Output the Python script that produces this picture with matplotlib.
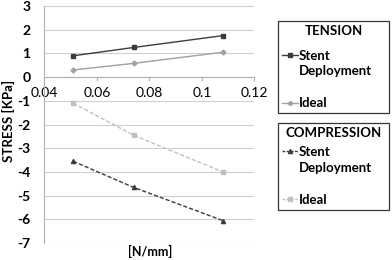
import matplotlib
matplotlib.use('Agg')
import matplotlib.pyplot as plt
from matplotlib.lines import Line2D

# Values
force = [0.051, 0.074, 0.108]
tension_stent = [0.9, 1.25, 1.75]
tension_ideal = [0.3, 0.58, 1.05]
compression_stent = [-3.55, -4.65, -6.05]
compression_ideal = [-1.1, -2.45, -4.0]

x_ticks = [0.04, 0.06, 0.08, 0.1, 0.12]
x_tick_labels = ['0.04', '0.06', '0.08', '0.1', '0.12']
y_ticks = [3, 2, 1, 0, -1, -2, -3, -4, -5, -6, -7]

plt.rcParams['font.family'] = ['Lato', 'DejaVu Sans']

dark = '#3c3c3c'
light = '#a0a0a0'
lighter = '#c0c0c0'
grid = '#d0d0d0'

fig = plt.figure(figsize=(3.92, 2.6), dpi=100)
ax = fig.add_axes([0.113, 0.065, 0.536, 0.912])

ax.plot(force, tension_stent, color=dark, lw=1.0, marker='s', ms=3.5)
ax.plot(force, tension_ideal, color=light, lw=1.0, marker='D', ms=2.5)
ax.plot(force, compression_stent, color=dark, lw=1.0, ls='--', dashes=(3, 1.5), marker='^', ms=3)
ax.plot(force, compression_ideal, color=lighter, lw=1.0, ls='--', dashes=(3, 1.5), marker='s', ms=3.5)

ax.set_xlim(0.04, 0.12)
ax.set_ylim(-7, 3)
ax.set_yticks(y_ticks)
ax.set_yticklabels([str(v) for v in y_ticks], fontsize=10, fontweight='bold')
ax.set_xticks(x_ticks)
ax.set_xticklabels(x_tick_labels, fontsize=10)
ax.yaxis.grid(True, color=grid, lw=0.8)
ax.set_axisbelow(True)

ax.spines['bottom'].set_position(('data', 0))
ax.spines['bottom'].set_color('#b0b0b0')
ax.spines['left'].set_color('#b0b0b0')
ax.spines['top'].set_visible(False)
ax.spines['right'].set_visible(False)
ax.tick_params(axis='x', direction='out', length=3, color='#b0b0b0', pad=4)
ax.tick_params(axis='y', length=0, pad=10)

fig.text(0.022, 0.535, 'STRESS [KPa]', rotation=90, fontsize=9.5, fontweight='bold',
         ha='center', va='center')
fig.text(0.383, 0.032, '[N/mm]', fontsize=9, fontweight='bold', ha='center', va='center')

blank = Line2D([], [], color='none')
handles1 = [Line2D([], [], color=dark, lw=1.0, marker='s', ms=3),
            blank, blank,
            Line2D([], [], color=light, lw=1.0, marker='D', ms=2.2)]
handles2 = [Line2D([], [], color=dark, lw=1.0, ls='--', dashes=(2, 1), marker='^', ms=3),
            blank, blank,
            Line2D([], [], color=lighter, lw=1.0, ls='--', dashes=(2, 1), marker='s', ms=3)]
labels = ['Stent', 'Deployment', ' ', 'Ideal']

for hs, title, top, gap in [(handles1, 'TENSION', 0.919, 9), (handles2, 'COMPRESSION', 0.527, 5)]:
    leg = fig.legend(hs, labels, title=title, loc='upper left',
                     bbox_to_anchor=(0.709, top - 0.4, 0.283, 0.4), mode='expand',
                     frameon=True, fancybox=False, edgecolor='black',
                     handlelength=1.2, handletextpad=0.1, labelspacing=0.3,
                     borderpad=0.3, borderaxespad=0,
                     prop={'size': 9.5, 'weight': 'bold'},
                     title_fontproperties={'size': 9.5, 'weight': 'bold'})
    leg.get_frame().set_linewidth(0.9)
    leg._legend_box.sep = gap

fig.savefig('out.png', dpi=100)
